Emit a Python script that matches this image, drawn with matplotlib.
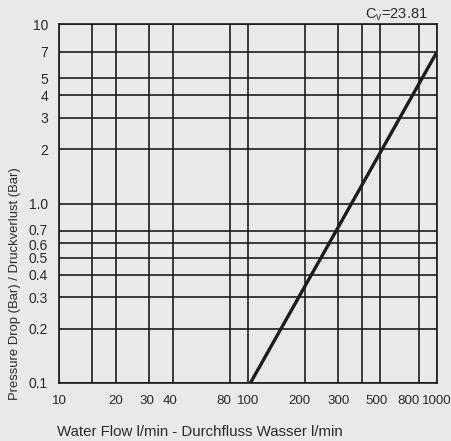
import matplotlib
matplotlib.use('Agg')
import matplotlib.pyplot as plt
from matplotlib.transforms import ScaledTranslation

# Flow / pressure drop line endpoints
flow = [103, 1000]
pressure_drop = [0.1, 7.0]

# Grid positions and their labels
x_grid = [10, 15, 20, 30, 40, 80, 100, 200, 300, 400, 500, 800, 1000]
x_labels = ['10', '', '20', '30', '40', '80', '100', '200', '300', '', '500', '800', '1000']
y_grid = [0.1, 0.2, 0.3, 0.4, 0.5, 0.6, 0.7, 1.0, 2, 3, 4, 5, 7, 10]
y_labels = ['0.1', '0.2', '0.3', '0.4', '0.5', '0.6', '0.7', '1.0', '2', '3', '4', '5', '7', '10']

BG = '#e9e9eb'
INK = '#1c1c1c'
TXT = '#2a2a2a'

plt.rcParams.update({
    'font.family': ['Liberation Sans', 'DejaVu Sans'],
    'font.size': 10,
})

fig = plt.figure(figsize=(4.52, 4.41), dpi=100, facecolor=BG)
ax = fig.add_axes([59 / 452, 1 - 383 / 441, 378 / 452, 359 / 441])
ax.set_facecolor(BG)

ax.set_xscale('log')
ax.set_yscale('log')
ax.set_xlim(10, 1000)
ax.set_ylim(0.1, 10)

ax.set_xticks(x_grid)
ax.set_xticklabels(x_labels)
ax.set_yticks(y_grid)
ax.set_yticklabels(y_labels)
ax.minorticks_off()
ax.tick_params(length=0, labelsize=10, colors=TXT)
ax.tick_params(axis='x', pad=9, labelsize=9.6)
ax.tick_params(axis='y', pad=8)

# the printed chart sets some labels a little off their grid lines
nudge_x = {'30': -2, '40': -3, '80': -6, '200': -5, '500': -4, '800': -10}
nudge_y = {'0.7': 2, '0.6': -1}
for lab in ax.get_xticklabels():
    dx = nudge_x.get(lab.get_text(), 0)
    if dx:
        lab.set_transform(lab.get_transform() + ScaledTranslation(dx / 100, 0, fig.dpi_scale_trans))
for lab in ax.get_yticklabels():
    dy = nudge_y.get(lab.get_text(), 0)
    if dy:
        lab.set_transform(lab.get_transform() + ScaledTranslation(0, dy / 100, fig.dpi_scale_trans))

ax.grid(True, color=INK, linewidth=1.2)
for s in ax.spines.values():
    s.set_color(INK)
    s.set_linewidth(1.2)

ax.plot(flow, pressure_drop, color=INK, linewidth=2.4, solid_capstyle='butt')

ax.text(0.976, 1.025, r'C$_\mathregular{v}$=23.81', transform=ax.transAxes,
        ha='right', va='center', fontsize=10.5, color=TXT)

ax.set_xlabel('Water Flow l/min - Durchfluss Wasser l/min', loc='left',
              fontsize=10.8, color=TXT, verticalalignment='baseline')
ax.xaxis.set_label_coords(-0.005, -0.147)
ax.set_ylabel('Pressure Drop (Bar) / Druckverlust (Bar)', loc='bottom',
              fontsize=9.4, color=TXT)
ax.yaxis.set_label_coords(-0.10, -0.047)

fig.savefig('out.png', dpi=100, facecolor=BG)
